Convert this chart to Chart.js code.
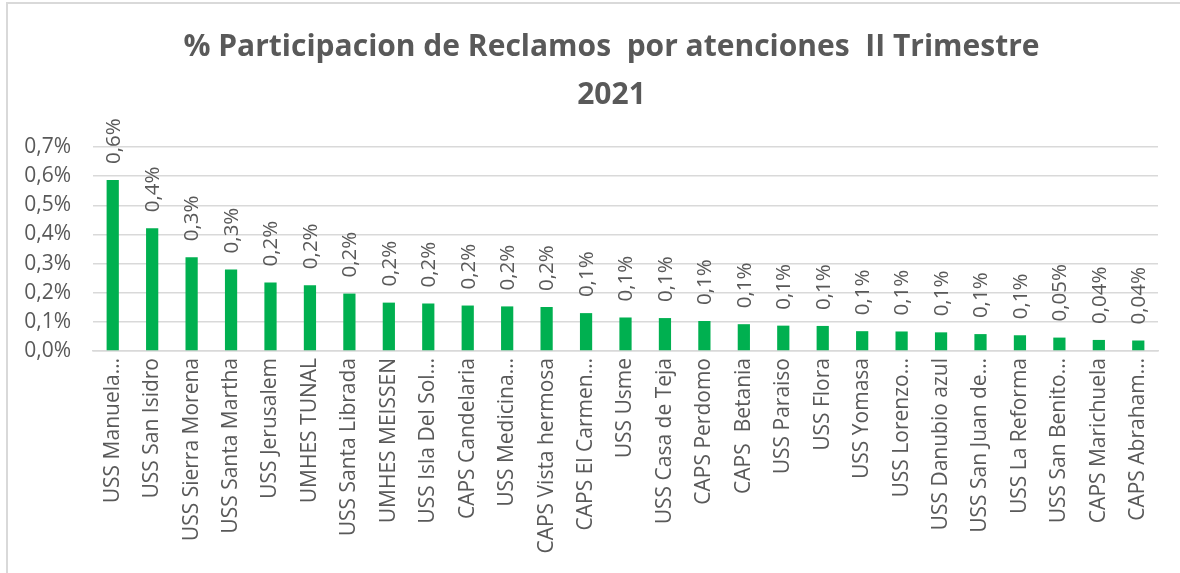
<!DOCTYPE html>
<html>
<head>
<meta charset="utf-8">
<script src="https://cdn.jsdelivr.net/npm/chart.js@4.4.1/dist/chart.umd.min.js"></script>
<style>
    html, body { margin: 0; padding: 0; background: #fff; overflow: hidden; }
    #frame { position: absolute; left: 6px; top: 2px; width: 1300px; height: 700px; border-left: 2px solid #d9d9d9; border-top: 2px solid #d9d9d9; }
    #reclamos-chart-container { position: absolute; left: 0; top: 0; width: 1180px; height: 573px; }
</style>
</head>
<body>
<div id="frame"></div>
<div id="reclamos-chart-container"><canvas id="reclamos-chart"></canvas></div>
<script>
// categorias (como aparecen recortadas en el eje)
const unidades = [
    'USS Manuela…', 'USS San Isidro', 'USS Sierra Morena', 'USS Santa Martha', 'USS Jerusalem',
    'UMHES TUNAL', 'USS Santa Librada', 'UMHES MEISSEN', 'USS Isla Del Sol…', 'CAPS Candelaria',
    'USS Medicina…', 'CAPS Vista hermosa', 'CAPS El Carmen…', 'USS Usme', 'USS Casa de Teja',
    'CAPS Perdomo', 'CAPS  Betania', 'USS Paraiso', 'USS Flora', 'USS Yomasa',
    'USS Lorenzo…', 'USS Danubio azul', 'USS San Juan de…', 'USS La Reforma', 'USS San Benito…',
    'CAPS Marichuela', 'CAPS Abraham…'
];

// % de participacion (en puntos porcentuales)
const participacion = [
    0.587, 0.421, 0.322, 0.280, 0.235,
    0.226, 0.197, 0.166, 0.163, 0.156,
    0.153, 0.151, 0.130, 0.115, 0.113,
    0.103, 0.092, 0.087, 0.086, 0.068,
    0.067, 0.064, 0.058, 0.054, 0.046,
    0.038, 0.036
];

const titulo = ['% Participacion de Reclamos  por atenciones  II Trimestre', '2021'];
const y_min = 0;
const y_max = 0.7;
const y_step = 0.1;

const text_color = '#595959';
const font_family = '"Open Sans", sans-serif';

const format_pct = (v, dec) => v.toFixed(dec).replace('.', ',') + '%';
const format_label = (v) => v < 0.05 ? format_pct(v, 2) : format_pct(v, 1);

// etiquetas de datos verticales sobre cada barra
const data_labels_plugin = {
    id: 'dataLabels',
    afterDatasetsDraw(chart) {
        const ctx = chart.ctx;
        const meta = chart.getDatasetMeta(0);
        ctx.save();
        ctx.font = '20.5px ' + font_family;
        ctx.fillStyle = text_color;
        ctx.textAlign = 'left';
        ctx.textBaseline = 'middle';
        meta.data.forEach((bar, i) => {
            ctx.save();
            ctx.translate(bar.x + 1, bar.y - 16);
            ctx.rotate(-Math.PI / 2);
            ctx.fillText(format_label(participacion[i]), 0, 0);
            ctx.restore();
        });
        ctx.restore();
    }
};

// titulo centrado sobre el area del grafico (como en Excel), no sobre el canvas
const title_plugin = {
    id: 'tituloExcel',
    afterDraw(chart) {
        const ctx = chart.ctx;
        const area = chart.chartArea;
        const cx = (area.left + area.right) / 2 - 14;
        ctx.save();
        ctx.font = 'bold 30px ' + font_family;
        ctx.fillStyle = text_color;
        ctx.textAlign = 'center';
        ctx.textBaseline = 'middle';
        titulo.forEach((line, i) => {
            ctx.fillText(line, cx, 47 + i * 48);
        });
        ctx.restore();
    }
};

const init_reclamos_chart = () => {
    const canvas = document.getElementById('reclamos-chart');

    new Chart(canvas, {
        type: 'bar',
        data: {
            labels: unidades,
            datasets: [{
                data: participacion,
                backgroundColor: '#00b050',
                borderWidth: 0,
                categoryPercentage: 1,
                barPercentage: 0.31
            }]
        },
        options: {
            responsive: true,
            maintainAspectRatio: false,
            animation: false,
            layout: {
                padding: { left: 0, right: 22, top: 147, bottom: 0 }
            },
            scales: {
                y: {
                    min: y_min,
                    max: y_max,
                    grid: {
                        color: '#d9d9d9',
                        lineWidth: 1.5,
                        drawTicks: false
                    },
                    border: { display: false },
                    ticks: {
                        stepSize: y_step,
                        color: text_color,
                        padding: 22,
                        font: { family: font_family, size: 21 },
                        callback: (v) => format_pct(v, 1)
                    },
                    afterFit: (scale) => { scale.width = 93; }
                },
                x: {
                    grid: { display: false, drawTicks: false },
                    border: { display: true, color: '#d9d9d9', width: 1.5 },
                    ticks: {
                        autoSkip: false,
                        minRotation: 90,
                        maxRotation: 90,
                        padding: 7,
                        color: text_color,
                        font: { family: font_family, size: 21 }
                    },
                    afterFit: (scale) => { scale.height = 222; }
                }
            },
            plugins: {
                legend: { display: false },
                tooltip: { enabled: false },
                title: { display: false }
            }
        },
        plugins: [data_labels_plugin, title_plugin]
    });
}

init_reclamos_chart();
</script>
</body>
</html>
